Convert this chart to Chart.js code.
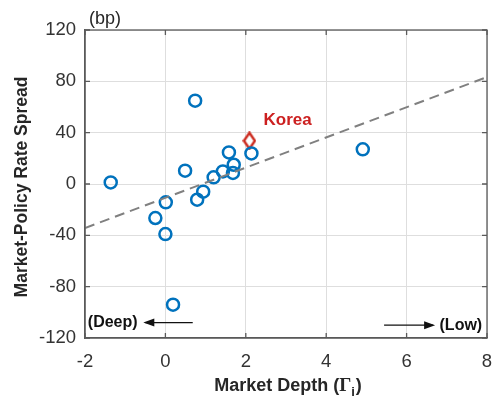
<!DOCTYPE html>
<html><head><meta charset="utf-8">
<script src="https://cdn.jsdelivr.net/npm/chart.js@4"></script>
<style>html,body{margin:0;padding:0;background:#fff}#wrap{width:496px;height:399px}</style>
</head><body><div id="wrap"><canvas id="c" width="496" height="399"></canvas></div>
<script>
// Data
const countryX = [-1.36, 0.74, 1.58, 2.14, 4.91, 0.49, 1.70, 1.43, 1.68, 1.20, 0.94, 0.79, 0.01, -0.25, 0.00, 0.19];
const countryY = [1.2, 64.9, 24.6, 23.8, 27.0, 10.4, 15.0, 9.8, 8.6, 5.2, -6.0, -12.2, -14.3, -26.5, -39.0, -94.0];
const koreaX = [2.09];
const koreaY = [33.7];
const fitX = [-2, 8];
const fitY = [-34.3, 83.3];
const xTicks = [-2, 0, 2, 4, 6, 8];
const yTicks = [-120, -80, -40, 0, 40, 80, 120];

const toPts = (xs, ys) => xs.map((x, i) => ({x: x, y: ys[i]}));

// diamond marker
const dm = document.createElement('canvas');
dm.width = 14; dm.height = 19;
(function(){
  const g = dm.getContext('2d');
  g.strokeStyle = '#CC2A1E'; g.lineWidth = 2.4;
  g.beginPath(); g.moveTo(7, 1.5); g.lineTo(12.5, 9.5); g.lineTo(7, 17.5); g.lineTo(1.5, 9.5); g.closePath(); g.stroke();
})();

const decor = {
  id: 'decor',
  afterDraw(chart) {
    const ctx = chart.ctx, a = chart.chartArea, xs = chart.scales.x, ys = chart.scales.y;
    ctx.save();
    // box
    ctx.strokeStyle = '#5a5a5a'; ctx.lineWidth = 1.3;
    ctx.strokeRect(a.left, a.top, a.right - a.left, a.bottom - a.top);
    // inner ticks
    ctx.beginPath();
    xTicks.forEach(v => { const px = xs.getPixelForValue(v);
      ctx.moveTo(px, a.bottom); ctx.lineTo(px, a.bottom - 5);
      ctx.moveTo(px, a.top); ctx.lineTo(px, a.top + 5); });
    yTicks.forEach(v => { const py = ys.getPixelForValue(v);
      ctx.moveTo(a.left, py); ctx.lineTo(a.left + 5, py);
      ctx.moveTo(a.right, py); ctx.lineTo(a.right - 5, py); });
    ctx.stroke();
    // (bp)
    ctx.fillStyle = '#262626';
    ctx.font = '18px "Liberation Sans", Arial, sans-serif';
    ctx.textAlign = 'left'; ctx.textBaseline = 'middle';
    ctx.fillText('(bp)', a.left + 4, 19);
    // Korea label
    ctx.fillStyle = '#CC2020';
    ctx.font = 'bold 17px "Liberation Sans", Arial, sans-serif';
    ctx.textAlign = 'center';
    ctx.fillText('Korea', xs.getPixelForValue(3.04), ys.getPixelForValue(50));
    // Deep / Low
    ctx.fillStyle = '#111';
    ctx.font = 'bold 16px "Liberation Sans", Arial, sans-serif';
    ctx.textAlign = 'left';
    const yd = ys.getPixelForValue(-108);
    ctx.fillText('(Deep)', xs.getPixelForValue(-1.93), yd);
    ctx.textAlign = 'right';
    const yl = ys.getPixelForValue(-110);
    ctx.fillText('(Low)', xs.getPixelForValue(7.88), yl);
    // arrows
    function arrow(x1, x2, y) {
      ctx.strokeStyle = '#111'; ctx.lineWidth = 1.2;
      ctx.beginPath(); ctx.moveTo(x1, y); ctx.lineTo(x2, y); ctx.stroke();
      const d = Math.sign(x2 - x1);
      ctx.beginPath(); ctx.moveTo(x2 + d * 2, y); ctx.lineTo(x2 - d * 9, y - 4); ctx.lineTo(x2 - d * 9, y + 4); ctx.closePath(); ctx.fill();
    }
    arrow(xs.getPixelForValue(0.68), xs.getPixelForValue(-0.50), yd);
    arrow(xs.getPixelForValue(5.44), xs.getPixelForValue(6.66), yl);
    // x title with subscript
    ctx.fillStyle = '#262626';
    ctx.textAlign = 'left'; ctx.textBaseline = 'alphabetic';
    const f1 = 'bold 18px "Liberation Sans", Arial, sans-serif';
    const f2 = 'bold 19px "Liberation Serif", "Times New Roman", serif';
    const f3 = 'bold 13px "Liberation Sans", Arial, sans-serif';
    const parts = [['Market Depth (', f1, 0], ['Γ', f2, 0], ['i', f3, 5], [')', f1, 0]];
    let w = 0;
    parts.forEach(p => { ctx.font = p[1]; w += ctx.measureText(p[0]).width + (p[0] === 'i' ? 1 : 0); });
    let x = (a.left + a.right) / 2 - w / 2 + 2; const by = 391;
    parts.forEach(p => { ctx.font = p[1]; ctx.fillText(p[0], x, by + p[2]); x += ctx.measureText(p[0]).width + (p[0] === 'i' ? 1 : 0); });
    // y title
    ctx.save();
    ctx.translate(22, (a.top + a.bottom) / 2 + 3);
    ctx.rotate(-Math.PI / 2);
    ctx.font = 'bold 17.5px "Liberation Sans", Arial, sans-serif';
    ctx.textAlign = 'center'; ctx.textBaseline = 'middle';
    ctx.fillText('Market-Policy Rate Spread', 0, 0);
    ctx.restore();
    ctx.restore();
  }
};

new Chart(document.getElementById('c'), {
  type: 'scatter',
  data: {
    datasets: [
      { type: 'line', data: toPts(fitX, fitY), borderColor: '#808080', borderWidth: 2, borderDash: [10, 6], pointRadius: 0, fill: false },
      { data: toPts(countryX, countryY), pointRadius: 6, pointBorderWidth: 2.5, borderColor: '#0072BD', backgroundColor: 'rgba(0,0,0,0)', pointHoverRadius: 6 },
      { data: toPts(koreaX, koreaY), pointStyle: dm, pointRadius: 8 }
    ]
  },
  options: {
    responsive: false, animation: false,
    layout: { padding: { left: 0, right: 8, top: 30, bottom: 0 } },
    plugins: { legend: { display: false }, tooltip: { enabled: false } },
    scales: {
      x: {
        type: 'linear', min: -2, max: 8,
        afterBuildTicks: s => { s.ticks = xTicks.map(v => ({value: v})); },
        afterFit: s => { s.height = 61; s.paddingLeft = 0; s.paddingRight = 0; },
        grid: { color: '#dedede', lineWidth: 1, drawTicks: false },
        border: { display: true, color: '#5a5a5a', width: 1.3 },
        ticks: { padding: 13, color: '#333', font: { size: 18.5, family: '"Liberation Sans", Arial, sans-serif' }, maxRotation: 0 }
      },
      y: {
        type: 'linear', min: -120, max: 120,
        afterBuildTicks: s => { s.ticks = yTicks.map(v => ({value: v})); },
        afterFit: s => { s.width = 85; s.paddingTop = 0; s.paddingBottom = 0; },
        grid: { color: '#dedede', lineWidth: 1, drawTicks: false },
        border: { display: true, color: '#5a5a5a', width: 1.3 },
        ticks: { padding: 9, color: '#333', font: { size: 18.5, family: '"Liberation Sans", Arial, sans-serif' } }
      }
    }
  },
  plugins: [decor]
});
</script></body></html>
